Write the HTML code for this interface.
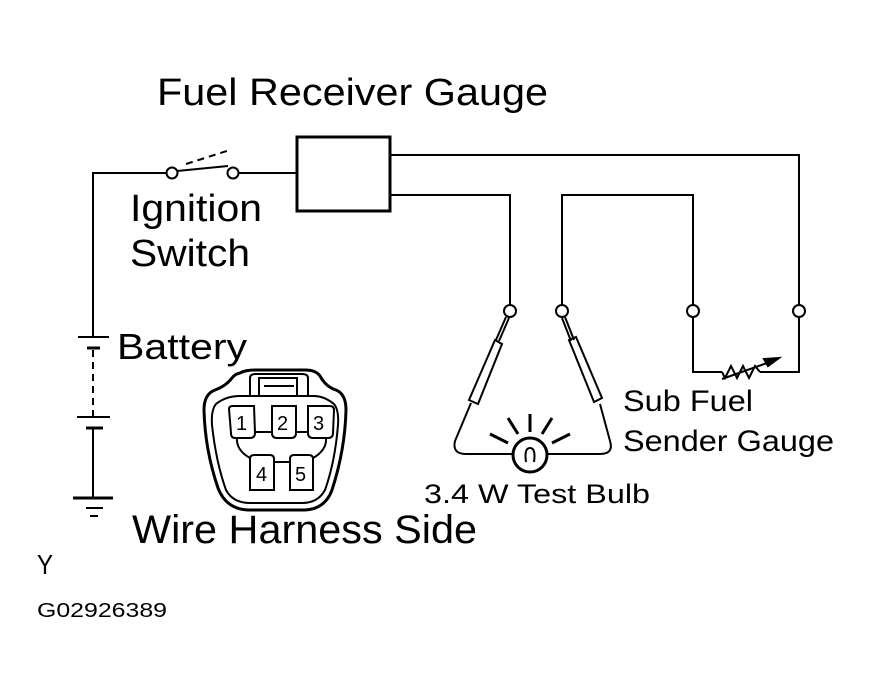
<!DOCTYPE html>
<html><head><style>html,body{margin:0;padding:0;background:#fff}svg{display:block}</style></head><body>
<svg width="871" height="693" viewBox="0 0 871 693" xmlns="http://www.w3.org/2000/svg" font-family="Liberation Sans, sans-serif" fill="none" stroke="#000" stroke-width="2">
<rect width="871" height="693" fill="#fff" stroke="none"/>
<g fill="#000" stroke="none">
<text x="157" y="105" font-size="38" textLength="391" lengthAdjust="spacingAndGlyphs">Fuel Receiver Gauge</text>
<text x="130" y="221" font-size="38" textLength="132" lengthAdjust="spacingAndGlyphs">Ignition</text>
<text x="130" y="266" font-size="38" textLength="120" lengthAdjust="spacingAndGlyphs">Switch</text>
<text x="117" y="359" font-size="36" textLength="130" lengthAdjust="spacingAndGlyphs">Battery</text>
<text x="132" y="543" font-size="40" textLength="345" lengthAdjust="spacingAndGlyphs">Wire Harness Side</text>
<text x="37" y="574" font-size="28" textLength="16" lengthAdjust="spacingAndGlyphs">Y</text>
<text x="37" y="617" font-size="20" textLength="130" lengthAdjust="spacingAndGlyphs">G02926389</text>
<text x="623" y="411" font-size="30" textLength="130" lengthAdjust="spacingAndGlyphs">Sub Fuel</text>
<text x="623" y="451" font-size="30" textLength="211" lengthAdjust="spacingAndGlyphs">Sender Gauge</text>
<text x="424" y="503" font-size="27" textLength="226" lengthAdjust="spacingAndGlyphs">3.4 W Test Bulb</text>
</g>
<rect x="297" y="137" width="93" height="74" stroke-width="3"/>
<polyline points="390,155 799,155 799,305"/>
<polyline points="390,195 510,195 510,305"/>
<polyline points="562,305 562,195 693,195 693,305"/>
<polyline points="167,173 93,173 93,336"/>
<line x1="238" y1="173" x2="297" y2="173"/>
<circle cx="172" cy="173" r="5.5"/><circle cx="233" cy="173" r="5.5"/>
<line x1="177" y1="171" x2="228" y2="166"/>
<line x1="186" y1="164" x2="230" y2="150" stroke-dasharray="7,5"/>
<line x1="78" y1="337" x2="109" y2="337"/>
<line x1="87" y1="348" x2="100" y2="348" stroke-width="3"/>
<line x1="93" y1="350" x2="93" y2="416" stroke-dasharray="7,5"/>
<line x1="77" y1="417" x2="110" y2="417"/>
<line x1="86" y1="428" x2="103" y2="428" stroke-width="3"/>
<line x1="93" y1="428" x2="93" y2="497"/>
<line x1="73" y1="498" x2="113" y2="498" stroke-width="3"/>
<line x1="86" y1="508" x2="103" y2="508"/>
<line x1="90" y1="516" x2="98" y2="516"/>
<circle cx="510" cy="311" r="6"/><circle cx="562" cy="311" r="6"/><circle cx="693" cy="311" r="6"/><circle cx="799" cy="311" r="6"/>
<polyline points="693,317 693,372 722,372"/>
<polyline points="799,317 799,372 760,372"/>
<polyline points="722,372 725,378 731,366 737,378 743,366 749,378 755,366 760,372"/>
<line x1="722" y1="379" x2="770" y2="362"/>
<polygon points="779,358 764,359 768,366" fill="#000"/>
<line x1="506" y1="317" x2="496" y2="340"/><line x1="509" y1="318" x2="499" y2="341"/>
<polygon points="495,340 502,344 478,404 469,400"/>
<path d="M471,403 L455,441 Q452,454 466,454 L600,454 Q614,454 610,441 L600,404"/>
<line x1="565" y1="317" x2="574" y2="340"/><line x1="562" y1="318" x2="571" y2="341"/>
<polygon points="569,340 576,337 602,398 594,402"/>
<circle cx="530" cy="455" r="17" stroke-width="3" fill="#fff"/>
<path d="M526,462 Q524,448 530,448 Q536,448 534,462"/>
<g stroke-width="3">
<line x1="530" y1="414" x2="530" y2="432"/>
<line x1="508" y1="418" x2="518" y2="434"/>
<line x1="552" y1="418" x2="542" y2="434"/>
<line x1="490" y1="434" x2="508" y2="443"/>
<line x1="570" y1="434" x2="552" y2="443"/>
</g>
<!-- connector -->
<path d="M240,373 Q245,370 255,370 L305,370 Q316,370 320,376 Q326,387 336,390 Q346,394 346,410 Q345,450 332,490 Q325,509 305,510 L248,510 Q226,509 218,488 Q205,450 204,410 Q204,394 215,390 Q226,386 232,378 Q235,374 240,373 Z" stroke-width="3"/>
<path d="M216,404 Q211,410 212,425 Q216,462 226,490 Q233,503 250,503 L302,503 Q318,503 325,490 Q335,462 338,425 Q339,410 334,404 Q324,396 314,396 L240,396 Q226,396 216,404 Z"/>
<path d="M250,396 L250,378 Q250,374 256,374 L302,374 Q308,374 308,378 L308,396"/>
<rect x="259" y="378" width="38" height="18"/>
<line x1="264" y1="386" x2="294" y2="386"/>
<path d="M229,409 Q229,406 233,406 L254,406 L255,433 Q255,438 250,438 L235,438 Q231,438 231,433 Z"/>
<path d="M272,406 L296,406 L296,433 Q296,438 291,438 L277,438 Q272,438 272,433 Z"/>
<path d="M308,406 L330,406 Q334,406 334,410 L333,433 Q333,438 328,438 L313,438 Q308,438 308,433 Z"/>
<line x1="255" y1="432" x2="272" y2="432"/><line x1="296" y1="432" x2="308" y2="432"/>
<path d="M250,459 Q250,455 254,455 L270,455 Q274,455 274,459 L274,490 L250,490 Z"/>
<path d="M290,459 Q290,455 294,455 L309,455 Q313,455 313,459 L313,490 L290,490 Z"/>
<line x1="274" y1="462" x2="290" y2="462"/>
<path d="M237,438 Q236,450 250,458 M326,438 Q327,450 313,458"/>
<g fill="#000" stroke="none" font-size="20">
<text x="236" y="430">1</text><text x="277" y="430">2</text><text x="313" y="430">3</text>
<text x="256" y="481">4</text><text x="295" y="481">5</text>
</g>
</svg>
</body></html>
